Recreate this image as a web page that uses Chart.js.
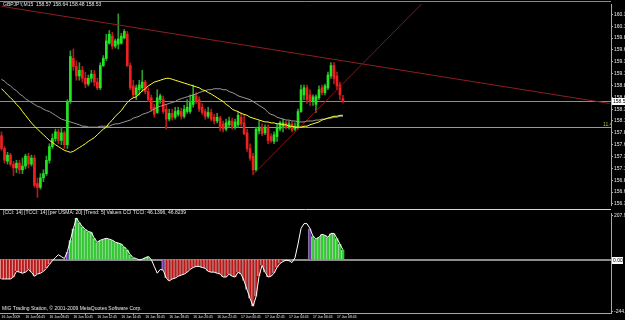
<!DOCTYPE html>
<html>
<head>
<meta charset="utf-8">
<title>GBPJPY,M15</title>
<script src="https://cdn.jsdelivr.net/npm/chart.js@4.4.0/dist/chart.umd.min.js"></script>
<style>
  html, body { margin: 0; padding: 0; background: #000; }
  #wrap { position: relative; width: 625px; height: 320px; background: #000; overflow: hidden; }
  canvas { position: absolute; left: 0; }
  #mainChart { top: 0; }
  #cciChart { top: 209px; }
</style>
</head>
<body>
<div id="wrap">
  <canvas id="mainChart" width="625" height="209"></canvas>
  <canvas id="cciChart" width="625" height="111"></canvas>
</div>
<script>
// GBPJPY M15, 16 Jun 04:45 -> 17 Jun 09:15, one bar every 15 minutes
const opens = [
  157.79,157.52,157.25,157.38,157.19,157.11,157.21,157.07,157.15,157.36,
  157.19,157.32,156.78,156.70,156.90,156.99,157.27,157.56,157.73,157.87,
  157.69,157.85,157.60,158.51,159.42,159.25,159.05,159.17,159.00,158.88,
  159.00,159.09,158.92,158.80,159.27,159.42,159.74,159.89,159.68,159.72,
  159.74,159.85,159.93,159.27,158.84,158.65,158.76,158.80,158.92,158.72,
  158.59,158.39,158.28,158.55,158.55,158.35,158.14,158.26,158.18,158.24,
  158.30,158.20,158.30,158.30,158.45,158.63,158.55,158.39,158.30,158.20,
  158.28,158.18,158.10,158.16,158.04,157.93,158.02,158.10,157.97,158.02,
  158.18,158.06,157.85,157.52,157.36,157.07,157.89,157.97,157.85,157.97,
  157.77,157.67,157.77,157.93,157.99,158.06,157.97,158.04,157.93,157.97,
  158.30,158.65,158.80,158.65,158.51,158.45,158.59,158.80,158.70,158.80,
  159.05,159.27,159.05,158.86,158.57
];
const highs = [
  157.87,157.56,157.44,157.42,157.25,157.27,157.27,157.32,157.40,157.42,
  157.38,157.38,156.90,156.99,157.07,157.36,157.62,157.83,157.93,157.93,
  157.97,157.89,158.55,159.58,159.62,159.37,159.33,159.25,159.13,159.07,
  159.17,159.17,159.00,159.33,159.48,159.93,160.01,159.97,159.83,160.36,
  159.95,160.03,159.99,159.33,158.96,158.86,158.96,159.17,158.96,158.80,
  158.65,158.45,158.76,158.67,158.63,158.45,158.35,158.35,158.39,158.39,
  158.37,158.43,158.55,158.65,158.86,158.70,158.61,158.47,158.35,158.39,
  158.35,158.24,158.26,158.20,158.10,158.14,158.18,158.16,158.14,158.30,
  158.28,158.24,157.93,157.62,157.42,157.97,158.10,158.04,158.02,158.02,
  157.83,157.87,158.04,158.10,158.14,158.10,158.10,158.08,158.06,158.35,
  158.86,158.86,158.86,158.76,158.65,158.65,158.84,158.86,158.88,159.13,
  159.33,159.33,159.13,158.92,158.64
];
const lows = [
  157.48,157.21,157.19,157.15,156.95,157.01,156.99,156.99,157.09,157.11,
  157.15,156.70,156.49,156.66,156.82,156.95,157.21,157.52,157.67,157.62,
  157.60,157.52,157.52,158.47,159.17,158.96,158.96,158.92,158.80,158.84,
  158.92,158.84,158.76,158.76,159.25,159.37,159.72,159.62,159.64,159.62,
  159.72,159.83,159.25,158.76,158.59,158.55,158.65,158.72,158.67,158.51,
  158.30,158.18,158.26,158.47,158.26,157.93,158.10,158.12,158.14,158.20,
  158.14,158.16,158.26,158.26,158.39,158.47,158.30,158.24,158.14,158.16,
  158.10,158.04,158.06,157.89,157.87,157.89,157.97,157.93,157.93,157.97,
  157.99,157.81,157.46,157.27,156.97,157.03,157.83,157.79,157.81,157.62,
  157.65,157.62,157.67,157.89,157.87,157.93,157.93,157.87,157.89,157.93,
  158.28,158.55,158.47,158.43,158.43,158.28,158.55,158.65,158.65,158.76,
  159.00,158.88,158.76,158.55,158.48
];
const closes = [
  157.52,157.27,157.38,157.19,157.11,157.21,157.07,157.15,157.36,157.19,
  157.32,156.74,156.70,156.90,156.99,157.27,157.56,157.73,157.87,157.69,
  157.85,157.60,158.51,159.46,159.25,159.05,159.17,159.00,158.88,159.00,
  159.09,158.92,158.80,159.27,159.42,159.79,159.93,159.68,159.79,159.83,
  159.89,159.99,159.27,158.80,158.65,158.80,158.86,158.92,158.72,158.55,
  158.35,158.24,158.59,158.63,158.30,158.14,158.26,158.18,158.30,158.32,
  158.20,158.35,158.39,158.49,158.65,158.51,158.35,158.28,158.20,158.28,
  158.14,158.10,158.18,157.97,157.93,158.06,158.10,157.99,158.08,158.22,
  158.04,157.83,157.52,157.32,157.07,157.93,157.97,157.83,157.97,157.69,
  157.69,157.81,157.97,158.06,158.06,157.97,158.04,157.91,157.99,158.30,
  158.76,158.80,158.55,158.51,158.61,158.61,158.76,158.70,158.84,159.07,
  159.27,159.00,158.84,158.65,158.53
];
// moving averages (yellow = fast, grey = slow)
const maFast = [
  158.78,158.72,158.65,158.59,158.53,158.45,158.39,158.30,158.22,158.14,
  158.06,157.99,157.93,157.87,157.81,157.75,157.69,157.65,157.60,157.56,
  157.52,157.48,157.46,157.44,157.46,157.50,157.54,157.58,157.62,157.67,
  157.71,157.75,157.81,157.87,157.93,157.97,158.06,158.12,158.20,158.26,
  158.32,158.41,158.49,158.55,158.59,158.61,158.67,158.74,158.78,158.84,
  158.88,158.92,158.94,158.96,158.98,159.00,159.00,158.98,158.96,158.94,
  158.92,158.90,158.88,158.86,158.84,158.82,158.80,158.76,158.74,158.70,
  158.67,158.63,158.59,158.55,158.51,158.45,158.41,158.35,158.32,158.30,
  158.26,158.24,158.22,158.18,158.16,158.14,158.12,158.10,158.08,158.08,
  158.06,158.06,158.04,158.04,158.02,158.02,157.99,157.99,157.97,157.97,
  157.97,157.99,157.99,158.02,158.04,158.06,158.08,158.12,158.14,158.16,
  158.18,158.20,158.20,158.22,158.22
];
const maSlow = [
  158.98,158.94,158.88,158.84,158.78,158.74,158.67,158.63,158.57,158.53,
  158.49,158.45,158.41,158.39,158.35,158.32,158.30,158.26,158.22,158.18,
  158.14,158.12,158.10,158.08,158.06,158.04,158.02,157.99,157.99,157.97,
  157.97,157.97,157.97,157.99,157.99,157.99,157.99,158.02,158.04,158.04,
  158.06,158.08,158.10,158.12,158.16,158.18,158.20,158.24,158.26,158.28,
  158.32,158.35,158.39,158.41,158.43,158.45,158.47,158.49,158.51,158.55,
  158.57,158.59,158.61,158.63,158.65,158.67,158.70,158.72,158.74,158.76,
  158.76,158.78,158.78,158.78,158.76,158.76,158.72,158.70,158.67,158.63,
  158.61,158.59,158.57,158.55,158.51,158.47,158.43,158.39,158.35,158.28,
  158.24,158.22,158.18,158.16,158.14,158.12,158.12,158.10,158.10,158.08,
  158.08,158.08,158.10,158.10,158.10,158.12,158.12,158.14,158.14,158.16,
  158.16,158.18,158.18,158.20,158.20
];
// CCI(14) values and histogram trend runs
const cciValues = [
  -91,-91,-91,-91,-82,-55,-59,-64,-59,-46,
  -59,-78,-68,-64,-55,-41,-23,-5,9,23,
  14,5,37,91,146,196,174,155,142,132,
  128,100,82,91,96,100,96,91,82,78,
  73,59,46,23,9,5,-2,2,9,14,
  1,-32,-64,-46,-50,-87,-100,-91,-87,-78,
  -73,-68,-59,-46,-37,-32,-32,-37,-41,-55,
  -59,-59,-64,-68,-82,-82,-68,-78,-82,-59,
  -68,-100,-142,-183,-219,-174,-78,-27,-59,-82,
  -78,-64,-37,-18,-9,-3,-5,-14,9,73,
  146,169,169,146,110,96,105,119,114,105,
  123,123,100,73,46
];
const trendRuns = [['dn',17],['none',5],['flip',1],['up',22],['none',3],['up',2],['none',4],['flip',1],['dn',39],['none',9],['flip',1],['up',11]];

// drawn objects
const trendDown = [[0, 160.52], [203, 158.47]];
const trendUp = [[84, 156.97], [150, 161.19]];
const levelLine = 157.97;
const bidPrice = 158.53;

// axes
const priceTicks = [160.35,160.10,159.85,159.60,159.35,159.10,158.85,158.60,158.35,158.10,157.85,157.60,157.35,157.10,156.85,156.60,156.35];
const cciTicks = [207.954, -244.665];
const xTickLabels = ['16 Jun 2009','16 Jun 06:45','16 Jun 08:45','16 Jun 10:45','16 Jun 12:45','16 Jun 14:45','16 Jun 16:45','16 Jun 18:45','16 Jun 20:45','16 Jun 22:45','17 Jun 00:45','17 Jun 02:45','17 Jun 04:45','17 Jun 06:45','17 Jun 08:45'];
const barsPerTick = 8;
const totalSlots = 204; // bars plus empty space on the right

const BULL = '#22e622', BEAR = '#ee2020';
const BULL_WICK = '#2f9a2f', BEAR_WICK = '#b01c1c';
const FONT = 'Liberation Sans';

// category labels: one per 15 min slot
const timeLabels = [];
for (let i = 0; i < totalSlots; i++) {
    const m = 4 * 60 + 45 + i * 15;
    const day = 16 + Math.floor(m / 1440);
    const hh = String(Math.floor((m % 1440) / 60)).padStart(2, '0');
    const mm = String(m % 60).padStart(2, '0');
    timeLabels.push(day + ' Jun ' + hh + ':' + mm);
}

const histState = [];
trendRuns.forEach(r => { for (let k = 0; k < r[1]; k++) histState.push(r[0]); });

Chart.defaults.animation = false;
Chart.defaults.font.family = FONT;

const mainOverlay = {
    id: 'mainOverlay',
    beforeDatasetsDraw(chart) {
        const { ctx, chartArea: a, scales: { y } } = chart;
        ctx.save();
        ctx.lineWidth = 1;
        const yl = Math.round(y.getPixelForValue(levelLine)) + 0.5;
        ctx.strokeStyle = '#a5a548';
        ctx.beginPath(); ctx.moveTo(a.left, yl); ctx.lineTo(a.right, yl); ctx.stroke();
        const yb = Math.round(y.getPixelForValue(bidPrice)) + 0.5;
        ctx.strokeStyle = '#8c8c8c';
        ctx.beginPath(); ctx.moveTo(a.left, yb); ctx.lineTo(a.right, yb); ctx.stroke();
        ctx.restore();
    },
    afterDraw(chart) {
        const { ctx, chartArea: a, scales: { y } } = chart;
        ctx.save();
        ctx.strokeStyle = '#8a8a8a';
        ctx.lineWidth = 1;
        ctx.beginPath(); ctx.moveTo(0, 1.5); ctx.lineTo(a.right, 1.5); ctx.stroke();
        // current price box
        const yb = Math.round(y.getPixelForValue(bidPrice));
        ctx.fillStyle = '#ffffff';
        ctx.fillRect(a.right + 1, yb - 3, 14, 7);
        ctx.fillStyle = '#000000';
        ctx.font = '5px ' + FONT;
        ctx.textBaseline = 'middle';
        ctx.fillText(bidPrice.toFixed(2), a.right + 2, yb + 0.5);
        // level label
        ctx.fillStyle = '#b5b550';
        ctx.fillText('11.4', a.right - 8, Math.round(y.getPixelForValue(levelLine)) - 2);
        // symbol header
        ctx.fillStyle = '#e8e8e8';
        ctx.fillText('GBPJPY,M15  158.57 158.64 158.48 158.53', 3, 5);
        ctx.restore();
    }
};

new Chart(document.getElementById('mainChart'), {
    type: 'bar',
    data: {
        labels: timeLabels,
        datasets: [
            { type: 'line', label: 'Trend down', data: trendDown.map(p => ({ x: timeLabels[p[0]], y: p[1] })),
              borderColor: '#8e1e1e', borderWidth: 1, pointRadius: 0, order: 3 },
            { type: 'line', label: 'Trend up', data: trendUp.map(p => ({ x: timeLabels[p[0]], y: p[1] })),
              borderColor: '#8a1212', borderWidth: 1, pointRadius: 0, order: 3 },
            { type: 'line', label: 'MA slow', data: maSlow, borderColor: '#9a9a9a', borderWidth: 1, pointRadius: 0, order: 1 },
            { type: 'line', label: 'MA fast', data: maFast, borderColor: '#ffff30', borderWidth: 1, pointRadius: 0, order: 0 },
            { label: 'Wicks', data: lows.map((l, i) => [l, highs[i]]),
              backgroundColor: closes.map((c, i) => c >= opens[i] ? BULL_WICK : BEAR_WICK),
              barThickness: 1, grouped: false, order: 5 },
            { label: 'Bodies', data: opens.map((o, i) => [o, closes[i]]),
              backgroundColor: closes.map((c, i) => c >= opens[i] ? BULL : BEAR),
              barThickness: 2, grouped: false, minBarLength: 1, order: 4 }
        ]
    },
    options: {
        responsive: false,
        layout: { padding: { top: 2, bottom: 1, left: 0, right: 0 } },
        plugins: { legend: { display: false }, tooltip: { enabled: false } },
        scales: {
            x: { type: 'category', display: false, offset: true },
            y: {
                position: 'right',
                min: 156.328, max: 160.568,
                afterFit: s => { s.width = 14; },
                afterBuildTicks: s => { s.ticks = priceTicks.map(v => ({ value: v })); },
                grid: { drawOnChartArea: false, drawTicks: true, tickLength: 2, color: '#a8a8a8' },
                border: { display: true, color: '#a8a8a8' },
                ticks: { color: '#e8e8e8', font: { size: 5 }, padding: 1, callback: v => v.toFixed(2) }
            }
        }
    },
    plugins: [mainOverlay]
});

const cciOverlay = {
    id: 'cciOverlay',
    beforeDatasetsDraw(chart) {
        const { ctx, chartArea: a, scales: { y } } = chart;
        const y0 = Math.round(y.getPixelForValue(0));
        ctx.save();
        ctx.strokeStyle = '#8c8c8c';
        ctx.lineWidth = 2;
        ctx.beginPath(); ctx.moveTo(a.left, y0); ctx.lineTo(a.right, y0); ctx.stroke();
        ctx.restore();
    },
    afterDraw(chart) {
        const { ctx, chartArea: a, scales: { y } } = chart;
        ctx.save();
        ctx.strokeStyle = '#d8d8d8';
        ctx.lineWidth = 1;
        ctx.beginPath(); ctx.moveTo(0, 0.5); ctx.lineTo(a.right, 0.5); ctx.stroke();
        const y0 = Math.round(y.getPixelForValue(0));
        ctx.fillStyle = '#ffffff';
        ctx.fillRect(a.right + 1, y0 - 3, 11, 7);
        ctx.fillStyle = '#000000';
        ctx.font = '5px ' + FONT;
        ctx.textBaseline = 'middle';
        ctx.fillText('0.00', a.right + 2, y0 + 0.5);
        ctx.fillStyle = '#e8e8e8';
        ctx.fillText('[CCI: 14] [TCCI: 14] [per USMA: 20] [Trend: 5] Values CCI TCCI: 46.1396, 46.8239', 3, 4);
        ctx.fillText('MIG Trading Station, \u00a9 2001-2009 MetaQuotes Software Corp.', 2, a.bottom - 4);
        ctx.restore();
    }
};

const histColors = { up: '#2ecc2e', dn: '#b81818', flip: '#6a34b0', none: 'rgba(0,0,0,0)' };
const histEdge = { up: '#c8f0c8', dn: '#f0c8c8', flip: '#c0a0e0', none: 'rgba(0,0,0,0)' };

new Chart(document.getElementById('cciChart'), {
    type: 'bar',
    data: {
        labels: timeLabels,
        datasets: [
            { type: 'line', label: 'CCI', data: cciValues, borderColor: '#ffffff', borderWidth: 1, pointRadius: 0, order: 0 },
            { label: 'Trend', data: cciValues.map((v, i) => histState[i] === 'none' ? null : v),
              backgroundColor: histState.map(s => histColors[s]),
              borderColor: histState.map(s => histEdge[s]),
              borderWidth: { left: 1, right: 0, top: 0, bottom: 0 },
              barThickness: 3, grouped: false, order: 1 }
        ]
    },
    options: {
        responsive: false,
        layout: { padding: { top: 1, bottom: 0, left: 0, right: 0 } },
        plugins: { legend: { display: false }, tooltip: { enabled: false } },
        scales: {
            x: {
                type: 'category', offset: true,
                afterFit: s => { s.height = 7; },
                grid: { drawOnChartArea: false, drawTicks: true, tickLength: 2, color: '#a8a8a8' },
                border: { display: true, color: '#a8a8a8' },
                ticks: {
                    autoSkip: false, maxRotation: 0, minRotation: 0, align: 'start', padding: 0,
                    color: '#e8e8e8', font: { size: 3.4 },
                    callback: (v, i) => (i % barsPerTick === 0 && i / barsPerTick < xTickLabels.length) ? xTickLabels[i / barsPerTick] : null
                }
            },
            y: {
                position: 'right',
                min: -251, max: 219,
                afterFit: s => { s.width = 14; },
                afterBuildTicks: s => { s.ticks = cciTicks.map(v => ({ value: v })); },
                grid: { drawOnChartArea: false, drawTicks: true, tickLength: 2, color: '#a8a8a8' },
                border: { display: true, color: '#a8a8a8' },
                ticks: { color: '#e8e8e8', font: { size: 5 }, padding: 1, callback: v => v.toFixed(3) }
            }
        }
    },
    plugins: [cciOverlay]
});
</script>
</body>
</html>
